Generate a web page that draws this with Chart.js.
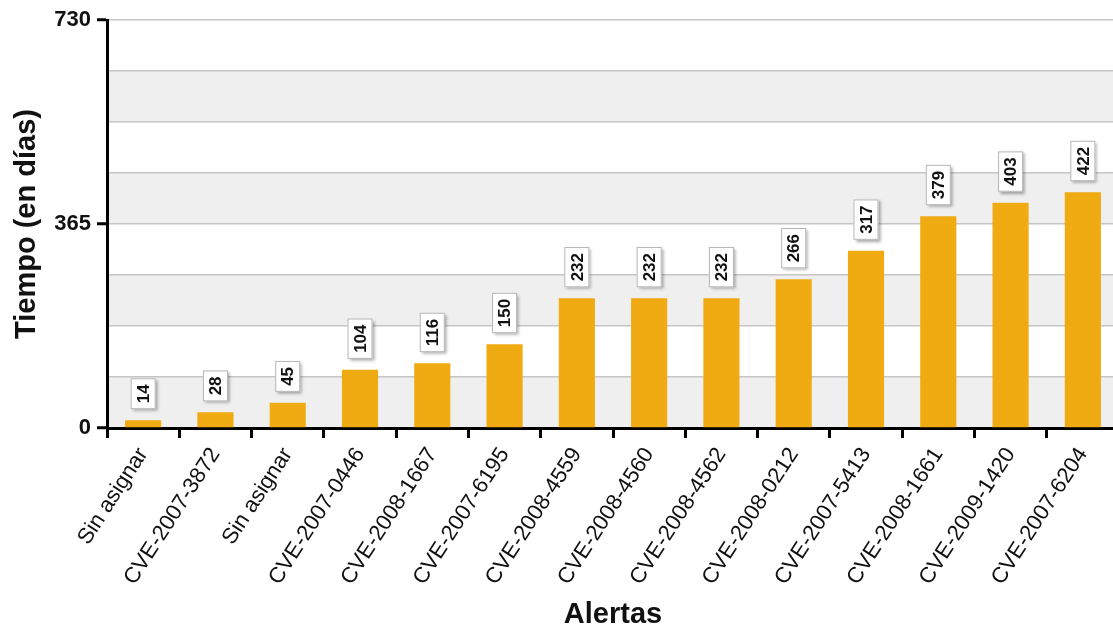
<!DOCTYPE html>
<html>
<head>
<meta charset="utf-8">
<script src="https://cdn.jsdelivr.net/npm/chart.js@4.4.1/dist/chart.umd.min.js"></script>
<style>
  html, body { margin: 0; padding: 0; background: #fff; overflow: hidden; }
  #wrap { width: 1125px; height: 629px; }
</style>
</head>
<body>
<div id="wrap"><canvas id="chart"></canvas></div>
<script>
// ═══ DATA ═══
const ALERTAS = ['Sin asignar', 'CVE-2007-3872', 'Sin asignar', 'CVE-2007-0446', 'CVE-2008-1667',
  'CVE-2007-6195', 'CVE-2008-4559', 'CVE-2008-4560', 'CVE-2008-4562', 'CVE-2008-0212',
  'CVE-2007-5413', 'CVE-2008-1661', 'CVE-2009-1420', 'CVE-2007-6204'];
const DIAS = [14, 28, 45, 104, 116, 150, 232, 232, 232, 266, 317, 379, 403, 422];
const Y_TICKS = [0, 91.25, 182.5, 273.75, 365, 456.25, 547.5, 638.75, 730];
const Y_LABELED = [0, 365, 730];

const BAR = '#F1AB12';
const BAND = '#EFEFEF';
const GRID = '#C6C6C6';
const FONT = "'Liberation Sans', Arial, sans-serif";

// ═══ BANDAS ALTERNAS ═══
const bandPlugin = {
  id: 'bands',
  beforeDraw(chart) {
    const { ctx, chartArea: a, scales: { y } } = chart;
    ctx.save();
    ctx.fillStyle = BAND;
    for (let i = 0; i < Y_TICKS.length - 1; i += 2) {
      const y0 = y.getPixelForValue(Y_TICKS[i]);
      const y1 = y.getPixelForValue(Y_TICKS[i + 1]);
      ctx.fillRect(a.left, y1, a.right - a.left, y0 - y1);
    }
    ctx.restore();
  }
};

// ═══ ETIQUETAS DE VALOR (cajas verticales) ═══
const boxLabels = {
  id: 'boxLabels',
  afterDatasetsDraw(chart) {
    const { ctx } = chart;
    const meta = chart.getDatasetMeta(0);
    ctx.save();
    ctx.font = 'bold 17px ' + FONT;
    meta.data.forEach((bar, i) => {
      const txt = String(DIAS[i]);
      const tw = ctx.measureText(txt).width;
      const w = 25, h = tw + 12;
      const bx = bar.x - w / 2, by = bar.y - 11 - h;
      ctx.shadowColor = 'rgba(0,0,0,0.35)';
      ctx.shadowOffsetX = 2;
      ctx.shadowOffsetY = 2;
      ctx.shadowBlur = 3;
      ctx.fillStyle = '#fff';
      ctx.fillRect(bx, by, w, h);
      ctx.shadowColor = 'transparent';
      ctx.strokeStyle = '#B5B5B5';
      ctx.lineWidth = 1;
      ctx.strokeRect(bx + 0.5, by + 0.5, w - 1, h - 1);
      ctx.translate(bar.x, by + h / 2);
      ctx.rotate(-Math.PI / 2);
      ctx.fillStyle = '#111';
      ctx.textAlign = 'center';
      ctx.textBaseline = 'middle';
      ctx.fillText(txt, 0, 1);
      ctx.setTransform(1, 0, 0, 1, 0, 0);
    });
    ctx.restore();
  }
};

new Chart(document.getElementById('chart'), {
  type: 'bar',
  data: {
    labels: ALERTAS,
    datasets: [{
      data: DIAS,
      backgroundColor: BAR,
      barPercentage: 0.5,
      categoryPercentage: 1
    }]
  },
  options: {
    responsive: true,
    maintainAspectRatio: false,
    animation: false,
    layout: { padding: { top: 20, right: 6, left: 0, bottom: 0 } },
    plugins: { legend: { display: false }, tooltip: { enabled: false } },
    scales: {
      x: {
        offset: true,
        border: { color: '#000', width: 3 },
        grid: { drawOnChartArea: false, tickLength: 10, tickColor: '#000', tickWidth: 3 },
        ticks: {
          autoSkip: false, minRotation: 57, maxRotation: 57, padding: 5,
          color: '#111', font: { family: FONT, size: 22 }
        },
        title: {
          display: true, text: 'Alertas', color: '#111',
          font: { family: FONT, size: 29, weight: 'bold', lineHeight: 1 },
          padding: { top: 0, bottom: 0 }
        },
        afterFit: s => { s.height = 201; }
      },
      y: {
        min: 0, max: 730,
        afterBuildTicks: s => { s.ticks = Y_TICKS.map(v => ({ value: v })); },
        border: { color: '#000', width: 3 },
        grid: {
          color: GRID, lineWidth: 1.5, tickLength: 10, tickWidth: 3,
          tickColor: c => Y_LABELED.includes(c.tick && c.tick.value) ? '#000' : 'rgba(0,0,0,0)'
        },
        ticks: {
          padding: 6, color: '#111',
          font: { family: FONT, size: 22, weight: 'bold' },
          callback: v => Y_LABELED.includes(v) ? v : ''
        },
        title: {
          display: true, text: 'Tiempo (en días)', color: '#111',
          font: { family: FONT, size: 29, weight: 'bold', lineHeight: 1 },
          padding: { top: 12, bottom: 0 }
        },
        afterFit: s => { s.width = 107; }
      }
    }
  },
  plugins: [bandPlugin, boxLabels]
});
</script>
</body>
</html>
